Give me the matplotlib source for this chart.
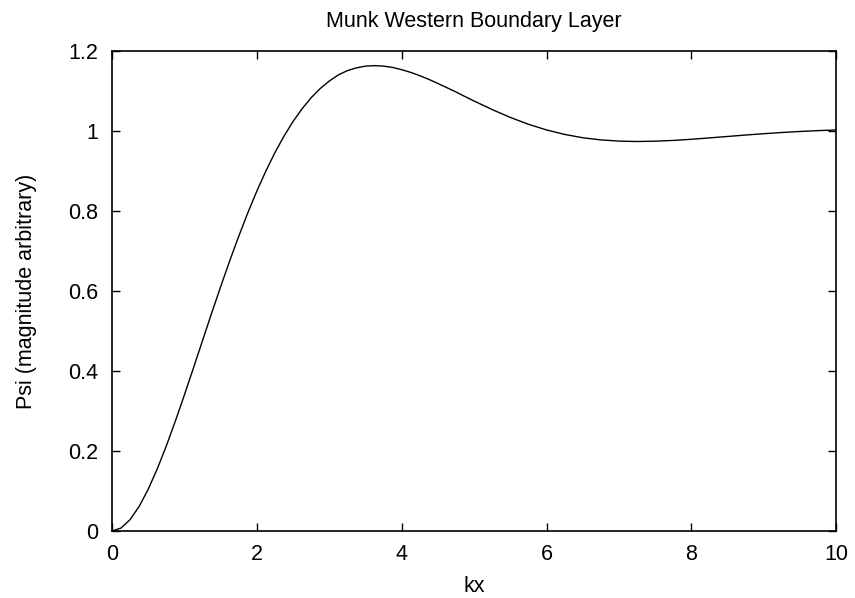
import matplotlib
matplotlib.use('Agg')
import matplotlib.pyplot as plt

plt.rcParams['font.family'] = ['Liberation Sans', 'DejaVu Sans']

# curve
kx = [0.0, 0.125, 0.25, 0.375, 0.5, 0.625, 0.75, 0.875, 1.0, 1.125,
      1.25, 1.375, 1.5, 1.625, 1.75, 1.875, 2.0, 2.125, 2.25, 2.375,
      2.5, 2.625, 2.75, 2.875, 3.0, 3.125, 3.25, 3.375, 3.5, 3.625,
      3.75, 3.875, 4.0, 4.125, 4.25, 4.375, 4.5, 4.625, 4.75, 4.875,
      5.0, 5.25, 5.5, 5.75, 6.0, 6.25, 6.5, 6.75, 7.0, 7.25, 7.5, 7.75,
      8.0, 8.25, 8.5, 8.75, 9.0, 9.25, 9.5, 9.75, 10.0]
psi = [0.0, 0.0075, 0.0286, 0.0616, 0.1044, 0.1554, 0.2127, 0.2749,
       0.3403, 0.4077, 0.4759, 0.5441, 0.6105, 0.6750, 0.7366, 0.7950,
       0.8495, 0.8998, 0.9457, 0.9868, 1.0235, 1.0552, 1.0828, 1.1058,
       1.1245, 1.1398, 1.1505, 1.1574, 1.1618, 1.1630, 1.1618, 1.1585,
       1.1529, 1.1461, 1.1379, 1.1286, 1.1185, 1.1078, 1.0972, 1.0857,
       1.0746, 1.0532, 1.0336, 1.0165, 1.0023, 0.9911, 0.9828, 0.9774,
       0.9744, 0.9734, 0.9742, 0.9761, 0.9790, 0.9824, 0.9860, 0.9896,
       0.9929, 0.9959, 0.9985, 1.0006, 1.0022]

xticks = [0, 2, 4, 6, 8, 10]
yticks = [0, 0.2, 0.4, 0.6, 0.8, 1, 1.2]
yticklabels = ['0', '0.2', '0.4', '0.6', '0.8', '1', '1.2']

fig = plt.figure(figsize=(8.55, 5.98), dpi=100)
ax = fig.add_axes([0.131, 0.112, 0.847, 0.803])

ax.plot(kx, psi, color='black', linewidth=1.0)

ax.set_xlim(0, 10)
ax.set_ylim(0, 1.2)
ax.set_xticks(xticks)
ax.set_xticklabels([str(t) for t in xticks])
ax.set_yticks(yticks)
ax.set_yticklabels(yticklabels)
ax.tick_params(direction='in', length=6, width=1, top=True, right=True,
               labelsize=15.5)
ax.tick_params(axis='x', pad=9)
ax.tick_params(axis='y', pad=10)
for s in ax.spines.values():
    s.set_linewidth(1.2)

ax.set_xlabel('kx', fontsize=15.5, labelpad=8)
ax.set_ylabel('Psi (magnitude arbitrary)', fontsize=15.5, labelpad=22)
ax.set_title('Munk Western Boundary Layer', fontsize=15.5, pad=17)

fig.savefig('out.png', dpi=100)
